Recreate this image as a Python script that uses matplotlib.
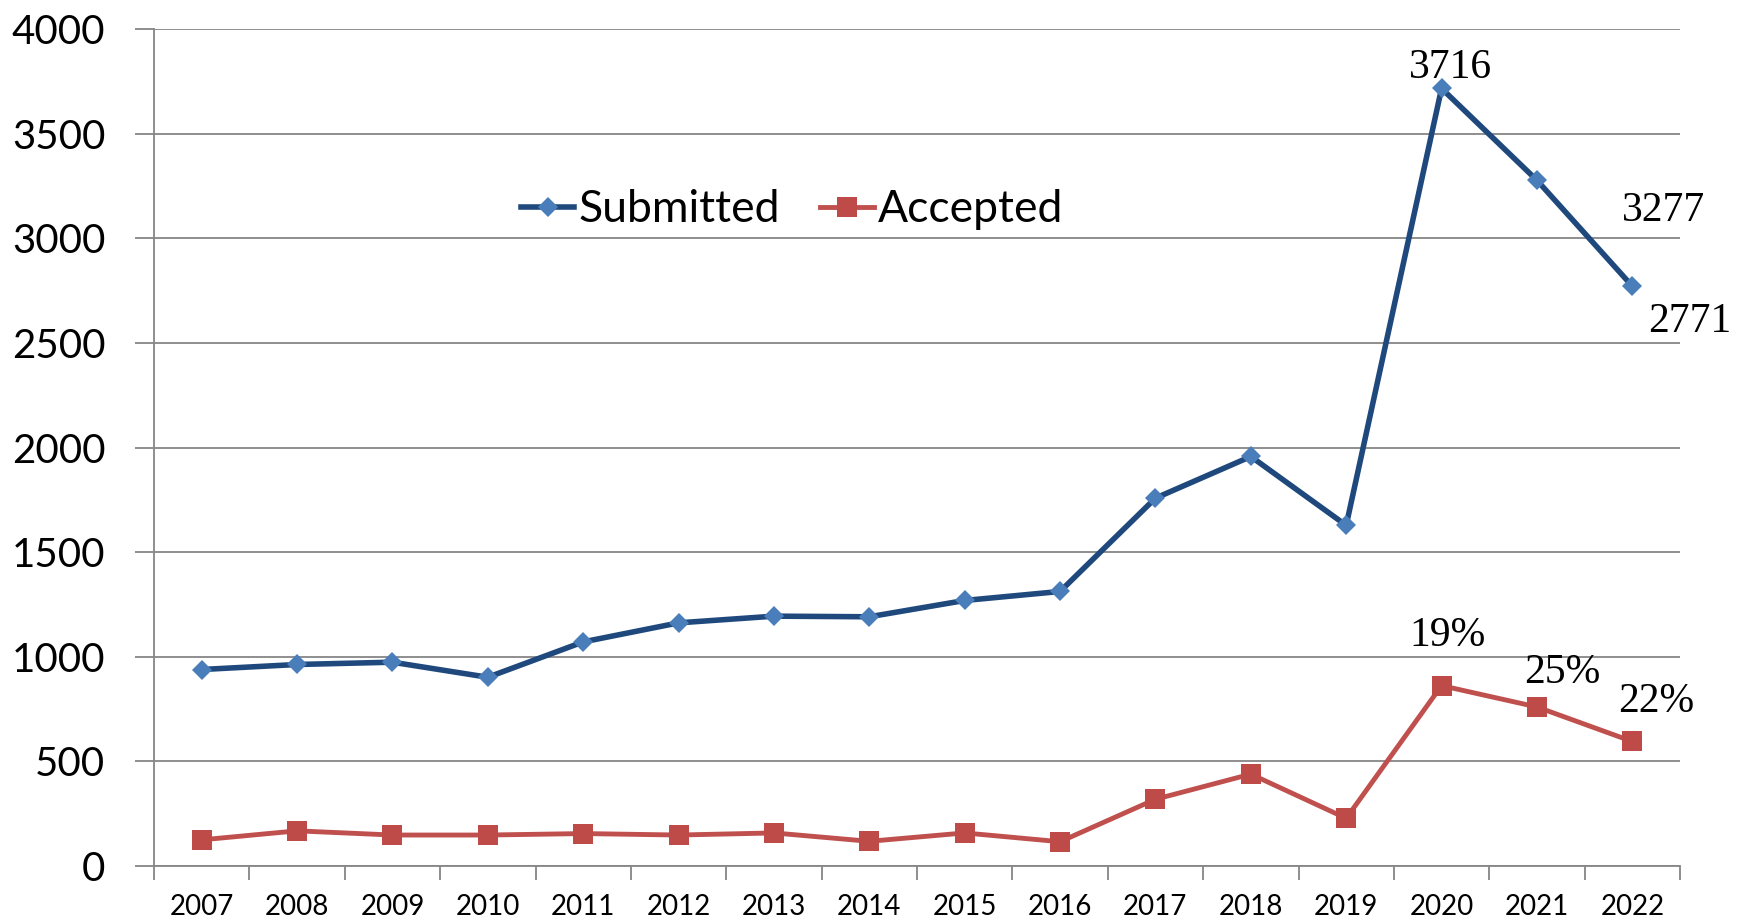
import matplotlib
matplotlib.use("Agg")
import matplotlib.pyplot as plt
import numpy as np

# values
years = [str(y) for y in range(2007, 2023)]
submitted = [939, 963, 974, 902, 1071, 1162, 1194, 1191, 1269, 1312,
             1758, 1957, 1628, 3716, 3277, 2771]
accepted = [125, 168, 148, 148, 155, 148, 158, 118, 158, 116,
            319, 439, 228, 862, 760, 595]

# labels shown for the last three years
sub_labels = ["3716", "3277", "2771"]
acc_labels = ["19%", "25%", "22%"]
label_idx = [13, 14, 15]

W, H = 1746, 923
fig = plt.figure(figsize=(W / 100, H / 100), dpi=100)
ax = fig.add_axes([154 / W, 1 - 866 / H, (1680 - 154) / W, (866 - 29) / H])

grey = "#868686"
x = np.arange(len(years))

ax.plot(x, submitted, color="#1F497D", lw=4, marker="D", ms=10.5,
        mfc="#4A7EBB", mec="#4A7EBB", mew=0, label="Submitted", zorder=3)
ax.plot(x, accepted, color="#C0504D", lw=3.5, marker="s", ms=14,
        mfc="#BE4B48", mec="#BE4B48", mew=0, label="Accepted", zorder=3)

ax.set_xlim(-0.5, len(years) - 0.5)
ax.set_ylim(0, 4000)
ax.set_yticks(np.arange(0, 4001, 500))
ax.yaxis.grid(True, color=grey, lw=1.3)
ax.set_axisbelow(True)

# category boundaries as ticks, labels at centers
ax.set_xticks(np.arange(-0.5, len(years)), labels=[])
ax.set_xticks(x, labels=years, minor=True)
ax.tick_params(axis="x", which="major", length=10, width=1.3, color=grey, direction="out")
ax.tick_params(axis="x", which="minor", length=0, pad=20, labelsize=20)
ax.tick_params(axis="y", length=14, width=1.3, color=grey, pad=21, labelsize=29)

for side in ["top", "right"]:
    ax.spines[side].set_visible(False)
for side in ["left", "bottom"]:
    ax.spines[side].set_color(grey)
    ax.spines[side].set_linewidth(1.3)

for lab in ax.get_xticklabels(minor=True) + ax.get_yticklabels():
    lab.set_fontfamily("Lato")

# data labels in a serif face
sub_off = [(9, 10), (127, -41), (57, -46)]
acc_off = [(6, 40), (25, 24), (24, 29)]
for i, idx in enumerate(label_idx):
    ax.annotate(sub_labels[i], (x[idx], submitted[idx]), xytext=sub_off[i],
                textcoords="offset pixels", ha="center", va="baseline",
                fontsize=30, family="Liberation Serif")
    ax.annotate(acc_labels[i], (x[idx], accepted[idx]), xytext=acc_off[i],
                textcoords="offset pixels", ha="center", va="baseline",
                fontsize=30, family="Liberation Serif")

leg = ax.legend(loc="center left", bbox_to_anchor=(521 / W, 1 - 210 / H),
                bbox_transform=fig.transFigure, ncol=2, frameon=False,
                borderpad=0, borderaxespad=0, handlelength=1.2, handletextpad=0.1,
                columnspacing=0.9, prop={"family": "Lato", "size": 32})

fig.savefig("out.png", dpi=100)
